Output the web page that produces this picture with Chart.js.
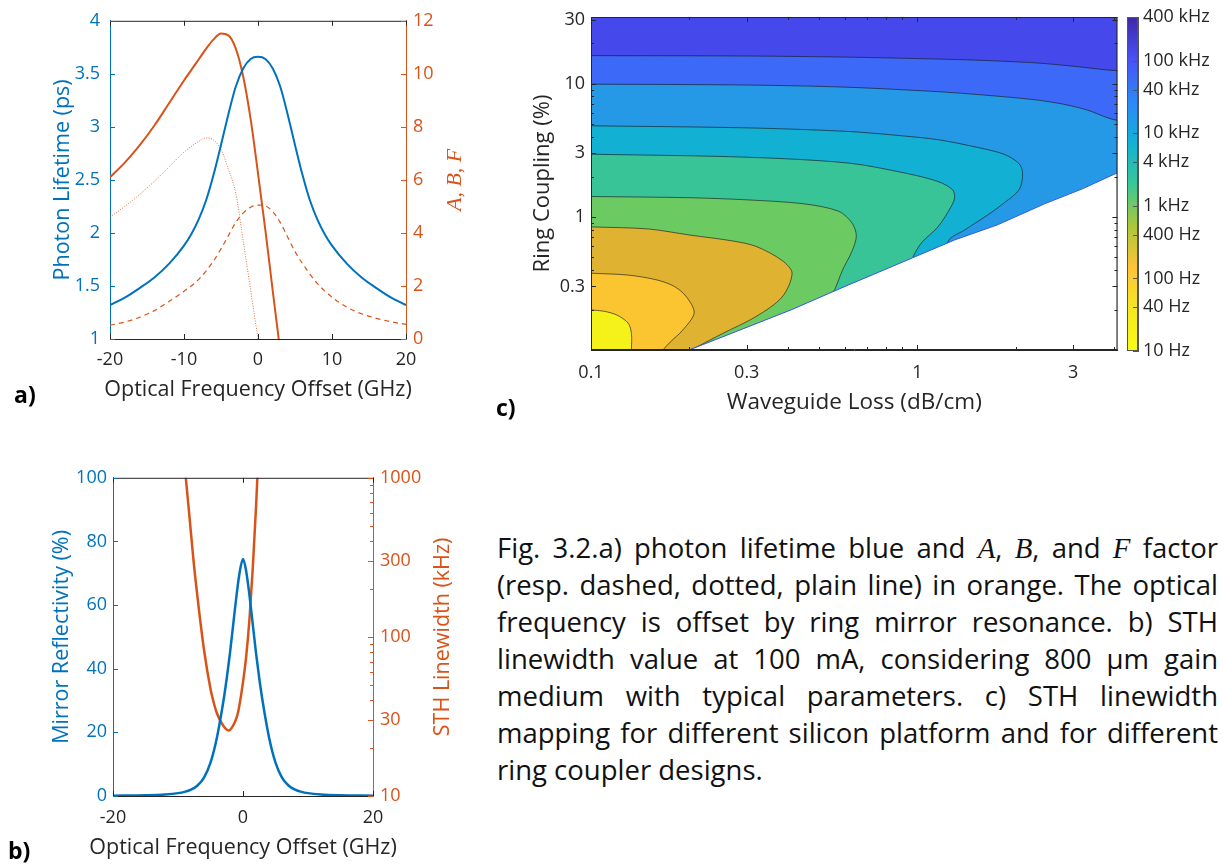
<!DOCTYPE html>
<html>
<head>
<meta charset="utf-8">
<script src="https://cdn.jsdelivr.net/npm/chart.js@4.4.1/dist/chart.umd.min.js"></script>
<style>
  body { margin: 0; background: #fff; width: 1223px; height: 866px; position: relative; overflow: hidden; font-family: 'Open Sans', sans-serif; }
  canvas { position: absolute; }
  .tag { position: absolute; font: bold 23px 'Open Sans', sans-serif; color: #000; }
  #caption { position: absolute; left: 497px; top: 529px; width: 721px; font-size: 27.5px; line-height: 37px; color: #111; }
  #caption div { text-align: justify; text-align-last: justify; height: 37px; }
  #caption div.last { text-align-last: left; }
  .m { font-family: 'Liberation Serif', 'DejaVu Serif', serif; font-style: italic; font-size: 1.05em; }
</style>
</head>
<body>
<canvas id="chartA" width="470" height="410" style="left:0;top:0"></canvas>
<canvas id="chartB" width="470" height="406" style="left:0;top:460px"></canvas>
<canvas id="chartC" width="636" height="420" style="left:490px;top:0"></canvas>
<canvas id="chartBar" width="113" height="420" style="left:1110px;top:0"></canvas>
<div class="tag" style="left:14px;top:378px">a)</div>
<div class="tag" style="left:8px;top:834px">b)</div>
<div class="tag" style="left:496px;top:391px">c)</div>
<div id="caption">
  <div>Fig. 3.2.a) photon lifetime blue and <span class="m">A</span>, <span class="m">B</span>, and <span class="m">F</span> factor</div>
  <div>(resp. dashed, dotted, plain line) in orange. The optical</div>
  <div>frequency is offset by ring mirror resonance. b) STH</div>
  <div>linewidth value at 100 mA, considering 800 μm gain</div>
  <div>medium with typical parameters. c) STH linewidth</div>
  <div>mapping for different silicon platform and for different</div>
  <div class="last">ring coupler designs.</div>
</div>
<script>
// ---------- panel a) photon lifetime and A, B, F factors ----------
const freqLife = [-20, -18, -16, -14, -12, -10, -9, -8, -7, -6, -5, -4, -3, -2, -1, 0, 1, 2, 3, 4, 5, 6, 7, 8, 9, 10, 12, 14, 16, 18, 20];
const lifetime = [1.32, 1.39, 1.48, 1.58, 1.71, 1.88, 1.99, 2.13, 2.31, 2.55, 2.83, 3.12, 3.38, 3.55, 3.64, 3.66, 3.64, 3.55, 3.38, 3.12, 2.83, 2.55, 2.31, 2.13, 1.99, 1.88, 1.71, 1.58, 1.48, 1.39, 1.32];

const freqA = [-20, -18, -16, -14, -12, -10, -8, -6, -5, -4, -3, -2, -1, 0, 1, 2, 3, 4, 5, 6, 8, 10, 12, 14, 16, 18, 20];
const factorA = [0.52, 0.64, 0.82, 1.07, 1.42, 1.80, 2.25, 2.95, 3.40, 3.90, 4.40, 4.75, 4.97, 5.05, 5.02, 4.80, 4.40, 3.85, 3.30, 2.85, 2.10, 1.58, 1.20, 0.95, 0.78, 0.65, 0.55];

const freqB = [-20, -18, -16, -14, -12, -10, -8, -7, -6, -5, -4, -3, -2, -1, 0];
const factorB = [4.6, 5.0, 5.45, 5.95, 6.5, 7.05, 7.45, 7.58, 7.5, 7.15, 6.4, 5.5, 3.7, 1.85, 0];

const freqF = [-20, -18, -16, -14, -12, -10, -9, -8, -7, -6, -5, -4, -3, -2, -1, 0, 1, 2, 2.8];
const factorF = [6.1, 6.65, 7.3, 8.05, 8.9, 9.75, 10.15, 10.55, 10.95, 11.3, 11.52, 11.45, 10.95, 9.9, 8.3, 6.25, 4.1, 1.8, 0];

// ---------- panel b) mirror reflectivity and STH linewidth ----------
const freqRefl = [-20, -15, -12, -10, -9, -8, -7, -6, -5, -4, -3, -2.5, -2, -1.5, -1, -0.5, 0, 0.5, 1, 1.5, 2, 2.5, 3, 4, 5, 6, 7, 8, 9, 10, 12, 15, 20];
const reflectivity = [0.1, 0.25, 0.5, 0.9, 1.3, 2.0, 3.3, 5.8, 10.5, 18.5, 30, 37, 45, 54, 63, 70.5, 74.5, 70.5, 63, 54, 45, 37, 30, 18.5, 10.5, 5.8, 3.3, 2.0, 1.3, 0.9, 0.5, 0.25, 0.1];

const freqSth = [-9.3, -8.8, -8, -7.6, -7, -6, -5, -4.6, -4, -3, -2.2, -1.5, -1, -0.7, 0, 0.5, 1, 1.5, 2, 2.2, 2.5];
const sthLinewidth = [1500, 1000, 447, 298, 178, 83, 47, 40, 33, 27.5, 25.8, 27.8, 31, 34.5, 52, 76, 130, 270, 650, 980, 1700];
const sthTicks = [10, 20, 30, 40, 50, 60, 70, 80, 90, 100, 200, 300, 400, 500, 600, 700, 800, 900, 1000];
const sthLabels = [10, 30, 100, 300, 1000];

// ---------- panel c) STH linewidth map: contour boundaries [loss dB/cm, coupling %] ----------
const contour1 = [[0.1, 16.2], [0.3, 16.1], [0.6, 15.8], [1, 15.4], [1.5, 15.0], [2.3, 14.3], [3, 13.5], [4.1, 12.5]];
const contour2 = [[0.1, 9.9], [0.3, 9.75], [0.6, 9.4], [1.15, 8.7], [1.6, 8.2], [2.3, 7.55], [2.8, 7.0], [3.3, 6.35], [4.1, 5.3]];
const contour3 = [[0.1, 4.82], [0.3, 4.65], [0.615, 4.37], [0.9, 4.05], [1.156, 3.79], [1.5, 3.35], [1.84, 2.95], [2.05, 2.5], [2.1, 2.1], [2.05, 1.6], [1.85, 1.28], [1.64, 1.03], [1.4, 0.8], [1.24, 0.65], [1.2, 0.3], [1.2, 0.1]];
const contour4 = [[0.1, 2.95], [0.3, 2.8], [0.615, 2.53], [0.915, 2.13], [1.156, 1.84], [1.28, 1.6], [1.3, 1.4], [1.27, 1.2], [1.156, 0.84], [1.03, 0.64], [0.97, 0.5], [0.9, 0.3], [0.9, 0.1]];
const contour5 = [[0.1, 1.42], [0.2, 1.39], [0.3, 1.34], [0.45, 1.25], [0.574, 1.10], [0.63, 0.9], [0.65, 0.72], [0.63, 0.55], [0.59, 0.4], [0.56, 0.29], [0.52, 0.2], [0.52, 0.1]];
const contour6 = [[0.1, 0.84], [0.15, 0.81], [0.2, 0.73], [0.27, 0.66], [0.32, 0.60], [0.385, 0.47], [0.413, 0.377], [0.385, 0.25], [0.32, 0.178], [0.253, 0.133], [0.21, 0.105], [0.2, 0.1]];
const contour7 = [[0.1, 0.377], [0.13, 0.365], [0.159, 0.336], [0.18, 0.30], [0.196, 0.251], [0.207, 0.19], [0.191, 0.141], [0.175, 0.115], [0.166, 0.1]];
const contour8 = [[0.1, 0.2], [0.11, 0.195], [0.12, 0.183], [0.13, 0.159], [0.133, 0.133], [0.133, 0.1]];
const noLasingEdge = [[0.2, 0.1], [0.41, 0.2], [0.615, 0.308], [0.83, 0.42], [1.3, 0.67], [1.76, 0.87], [2.45, 1.25], [3.2, 1.62], [4.1, 2.14]];
const bandColors = ['#4548EA', '#3D69F8', '#2598E6', '#12B0D3', '#38C497', '#6CCA63', '#E0B232', '#FAC531', '#F5F21A'];
const lossTicks = [0.1, 0.2, 0.3, 0.4, 0.5, 0.6, 0.7, 0.8, 0.9, 1, 2, 3, 4];
const lossLabels = [0.1, 0.3, 1, 3];
const couplingTicks = [0.1, 0.2, 0.3, 0.4, 0.5, 0.6, 0.7, 0.8, 0.9, 1, 2, 3, 4, 5, 6, 7, 8, 9, 10, 20, 30];
const couplingLabels = [0.3, 1, 3, 10, 30];

// colour bar (Hz)
const cbarTicks = [10, 40, 100, 400, 1000, 4000, 10000, 40000, 100000, 400000];
const cbarLabels = ['10 Hz', '40 Hz', '100 Hz', '400 Hz', '1 kHz', '4 kHz', '10 kHz', '40 kHz', '100 kHz', '400 kHz'];
const parula = ['#3E26A8', '#4852F4', '#2D87F7', '#12B1D6', '#37C897', '#ABC739', '#FEC338', '#F5E822', '#F9FB14'];

const BLUE = '#0072BD';
const ORANGE = '#D95319';
const DARK = '#262626';
Chart.defaults.font.family = "'Open Sans', sans-serif";

const pts = (xs, ys) => xs.map((x, i) => ({x: x, y: ys[i]}));
const pairs = arr => arr.map(p => ({x: p[0], y: p[1]}));

// inward tick marks, box lines and free-width axis titles, MATLAB style
const boxTicks = {
    id: 'boxTicks',
    afterDraw(chart, args, opts) {
        const ctx = chart.ctx;
        const a = chart.chartArea;
        const seg = (x1, y1, x2, y2, c) => {
            ctx.strokeStyle = c;
            ctx.beginPath();
            ctx.moveTo(x1, y1);
            ctx.lineTo(x2, y2);
            ctx.stroke();
        };
        ctx.save();
        ctx.lineWidth = 1;
        if (opts.top) seg(a.left, a.top + 0.5, a.right, a.top + 0.5, opts.top);
        if (opts.right) seg(a.right - 0.5, a.top, a.right - 0.5, a.bottom, opts.right);
        if (opts.left) seg(a.left + 0.5, a.top, a.left + 0.5, a.bottom, opts.left);
        if (opts.bottom) seg(a.left, a.bottom - 0.5, a.right, a.bottom - 0.5, opts.bottom);
        Object.values(chart.scales).forEach(s => {
            if (!s.options.display) return;
            const c = s.options.border.color;
            s.ticks.forEach(t => {
                const p = Math.round(s.getPixelForValue(t.value)) + 0.5;
                const len = t.label ? 5 : 3;
                if (s.isHorizontal()) {
                    seg(p, a.bottom, p, a.bottom - len, c);
                    if (opts.mirrorX) seg(p, a.top, p, a.top + len, opts.top || c);
                } else if (s.options.position === 'left') {
                    seg(a.left, p, a.left + len, p, c);
                    if (opts.mirrorY) seg(a.right, p, a.right - len, p, opts.right || c);
                } else {
                    seg(a.right, p, a.right - len, p, c);
                }
            });
        });
        ctx.textAlign = 'center';
        ctx.textBaseline = 'middle';
        if (opts.bottomTitle) {
            const t = opts.bottomTitle;
            ctx.fillStyle = t.color;
            ctx.font = t.font;
            ctx.fillText(t.text, (a.left + a.right) / 2, t.y);
        }
        if (opts.rightTitle) {
            const t = opts.rightTitle;
            ctx.translate(t.x, (a.top + a.bottom) / 2);
            ctx.rotate(-Math.PI / 2);
            ctx.fillStyle = t.color;
            ctx.font = t.font;
            ctx.fillText(t.text, 0, 0);
        }
        ctx.restore();
    }
};

const tickFont = {size: 18};
const titleFont = {size: 21.5};
const titleCss = "21.5px 'Open Sans', sans-serif";

// ---------- chart a) ----------
new Chart(document.getElementById('chartA'), {
    type: 'line',
    data: {
        datasets: [
            { data: pts(freqLife, lifetime), yAxisID: 'y', borderColor: BLUE, borderWidth: 2 },
            { data: pts(freqF, factorF), yAxisID: 'y2', borderColor: ORANGE, borderWidth: 2 },
            { data: pts(freqB, factorB), yAxisID: 'y2', borderColor: 'rgba(217,83,25,0.8)', borderWidth: 1, borderDash: [1, 1.5] },
            { data: pts(freqA, factorA), yAxisID: 'y2', borderColor: ORANGE, borderWidth: 1.2, borderDash: [5, 4] }
        ]
    },
    options: {
        responsive: false,
        animation: false,
        layout: { padding: { top: 14, right: 0, bottom: 0, left: 0 } },
        elements: { point: { radius: 0 }, line: { cubicInterpolationMode: 'monotone' } },
        plugins: {
            legend: { display: false }, tooltip: { enabled: false },
            boxTicks: {
                top: DARK, mirrorX: true,
                bottomTitle: { text: 'Optical Frequency Offset (GHz)', color: DARK, font: titleCss, y: 390 },
                rightTitle: { text: 'A, B, F', color: ORANGE, font: "italic 22px 'Liberation Serif', serif", x: 455 }
            }
        },
        scales: {
            x: {
                type: 'linear', min: -20, max: 20,
                ticks: { stepSize: 10, color: DARK, font: tickFont, padding: 10, maxRotation: 0 },
                grid: { display: false, drawTicks: false },
                border: { color: DARK },
                afterFit: s => { s.height = 71; }
            },
            y: {
                position: 'left', min: 1, max: 4,
                ticks: { stepSize: 0.5, color: BLUE, font: tickFont, padding: 10, callback: v => String(v) },
                grid: { display: false, drawTicks: false },
                border: { color: BLUE },
                title: { display: true, text: 'Photon Lifetime (ps)', color: BLUE, font: titleFont, padding: { top: 50 } },
                afterFit: s => { s.width = 110; }
            },
            y2: {
                position: 'right', min: 0, max: 12,
                ticks: { stepSize: 2, color: ORANGE, font: tickFont, padding: 7 },
                grid: { display: false, drawTicks: false },
                border: { color: ORANGE },
                afterFit: s => { s.width = 64; }
            }
        }
    },
    plugins: [boxTicks]
});

// ---------- chart b) ----------
new Chart(document.getElementById('chartB'), {
    type: 'line',
    data: {
        datasets: [
            { data: pts(freqRefl, reflectivity), yAxisID: 'y', borderColor: BLUE, borderWidth: 2.5 },
            { data: pts(freqSth, sthLinewidth), yAxisID: 'y2', borderColor: ORANGE, borderWidth: 2.5 }
        ]
    },
    options: {
        responsive: false,
        animation: false,
        layout: { padding: { top: 16, right: 0, bottom: 0, left: 0 } },
        elements: { point: { radius: 0 }, line: { cubicInterpolationMode: 'monotone' } },
        plugins: {
            legend: { display: false }, tooltip: { enabled: false },
            boxTicks: {
                top: DARK, mirrorX: true,
                bottomTitle: { text: 'Optical Frequency Offset (GHz)', color: DARK, font: titleCss, y: 388 },
                rightTitle: { text: 'STH Linewidth (kHz)', color: ORANGE, font: titleCss, x: 443 }
            }
        },
        scales: {
            x: {
                type: 'linear', min: -20, max: 20,
                ticks: { stepSize: 20, color: DARK, font: tickFont, padding: 11, maxRotation: 0 },
                grid: { display: false, drawTicks: false },
                border: { color: DARK },
                afterFit: s => { s.height = 70; }
            },
            y: {
                position: 'left', min: 0, max: 100,
                ticks: { stepSize: 20, color: BLUE, font: tickFont, padding: 6 },
                grid: { display: false, drawTicks: false },
                border: { color: BLUE },
                title: { display: true, text: 'Mirror Reflectivity (%)', color: BLUE, font: titleFont, padding: { top: 49 } },
                afterFit: s => { s.width = 113; }
            },
            y2: {
                type: 'logarithmic', position: 'right', min: 10, max: 1000,
                afterBuildTicks: s => { s.ticks = sthTicks.map(v => ({ value: v })); },
                ticks: { color: ORANGE, font: tickFont, padding: 7, autoSkip: false, callback: v => sthLabels.includes(v) ? String(v) : '' },
                grid: { display: false, drawTicks: false },
                border: { color: ORANGE },
                afterFit: s => { s.width = 97; }
            }
        }
    },
    plugins: [boxTicks]
});

// ---------- chart c) contour map ----------
const lossMin = 0.1, lossMax = 4.1, coupMin = 0.1, coupMax = 31.6;
// bands that leave through the right edge are closed outside the plot (clipped)
const closeRight = c => c.concat([[lossMax * 1.5, c[c.length - 1][1]], [lossMax * 1.5, coupMin]]);
const layers = [
    [[lossMin, coupMax], [lossMax * 1.5, coupMax], [lossMax * 1.5, coupMin]],
    closeRight(contour1),
    closeRight(contour2),
    contour3, contour4, contour5, contour6, contour7, contour8
];
const cSets = [];
layers.forEach((l, i) => cSets.push({
    data: pairs(l), backgroundColor: bandColors[i], borderWidth: 0, fill: { value: lossMin }, tension: 0.3
}));
layers.slice(1).forEach(l => cSets.push({
    data: pairs(l), borderColor: 'rgba(25,25,25,0.8)', borderWidth: 0.8, fill: false, tension: 0.3
}));
cSets.push({ data: pairs(noLasingEdge), backgroundColor: '#ffffff', borderColor: '#3659E0', borderWidth: 1, fill: { value: lossMax } });
cSets.forEach((d, i) => { d.order = cSets.length - i; });

new Chart(document.getElementById('chartC'), {
    type: 'line',
    data: { datasets: cSets },
    options: {
        responsive: false,
        animation: false,
        indexAxis: 'y',
        layout: { padding: { top: 17, right: 6, bottom: 0, left: 0 } },
        elements: { point: { radius: 0 } },
        plugins: { legend: { display: false }, tooltip: { enabled: false }, boxTicks: { top: DARK, right: DARK, left: DARK, bottom: DARK, mirrorX: true, mirrorY: true } },
        scales: {
            x: {
                type: 'logarithmic', position: 'bottom', min: lossMin, max: lossMax,
                afterBuildTicks: s => { s.ticks = lossTicks.map(v => ({ value: v })); },
                ticks: { color: DARK, font: tickFont, padding: 12, autoSkip: false, maxRotation: 0, callback: v => lossLabels.includes(v) ? String(v) : '' },
                grid: { display: false, drawTicks: false },
                border: { color: DARK },
                title: { display: true, text: 'Waveguide Loss (dB/cm)', color: DARK, font: { size: 22.5 }, padding: { bottom: 4 } },
                afterFit: s => { s.height = 70; }
            },
            y: {
                type: 'logarithmic', position: 'left', min: coupMin, max: coupMax,
                afterBuildTicks: s => { s.ticks = couplingTicks.map(v => ({ value: v })); },
                ticks: { color: DARK, font: tickFont, padding: 6, autoSkip: false, callback: v => couplingLabels.includes(v) ? String(v) : '' },
                grid: { display: false, drawTicks: false },
                border: { color: DARK },
                title: { display: true, text: 'Ring Coupling (%)', color: DARK, font: { size: 22 }, padding: { top: 40 } },
                afterFit: s => { s.width = 101; }
            }
        }
    },
    plugins: [boxTicks]
});

// ---------- colour bar ----------
new Chart(document.getElementById('chartBar'), {
    type: 'bar',
    data: {
        labels: ['linewidth'],
        datasets: [{
            data: [[cbarTicks[0], cbarTicks[cbarTicks.length - 1]]],
            barPercentage: 1, categoryPercentage: 1, borderWidth: 0,
            backgroundColor: c => {
                const area = c.chart.chartArea;
                if (!area) return parula[0];
                const g = c.chart.ctx.createLinearGradient(0, area.top, 0, area.bottom);
                parula.forEach((col, i) => g.addColorStop(i / (parula.length - 1), col));
                return g;
            }
        }]
    },
    options: {
        responsive: false,
        animation: false,
        layout: { padding: { top: 17, right: 0, bottom: 69, left: 17 } },
        plugins: { legend: { display: false }, tooltip: { enabled: false }, boxTicks: { top: '#555', right: '#555', left: '#555', bottom: '#555' } },
        scales: {
            x: { display: false },
            y: {
                type: 'logarithmic', position: 'right', min: cbarTicks[0], max: cbarTicks[cbarTicks.length - 1],
                afterBuildTicks: s => { s.ticks = cbarTicks.map(v => ({ value: v })); },
                ticks: { color: DARK, font: tickFont, padding: 5, autoSkip: false, callback: (v, i) => cbarLabels[i] },
                grid: { display: false, drawTicks: false },
                border: { color: '#555' },
                afterFit: s => { s.width = 85; }
            }
        }
    },
    plugins: [boxTicks]
});
</script>
</body>
</html>
